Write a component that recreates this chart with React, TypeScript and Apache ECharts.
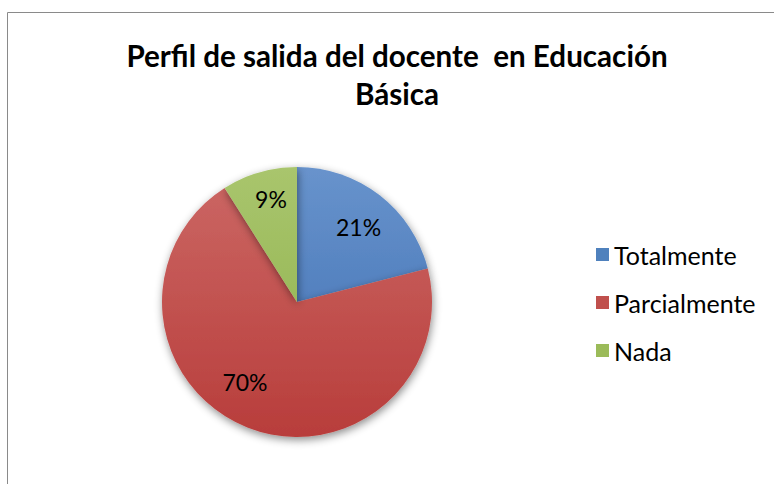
import React, { useEffect, useRef } from "react";
import * as echarts from "echarts";

const titleLines = ["Perfil de salida del docente  en Educación", "Básica"];
const categories = ["Totalmente", "Parcialmente", "Nada"];
const values = [21, 70, 9];
const topColors = ["#6893cc", "#cc6865", "#a9c56d"];
const bottomColors = ["#3c6db1", "#b83d3b", "#8cb049"];
const solidColors = ["#4f81bd", "#c0504d", "#9bbb59"];

const FONT = "Lato";

export default function App() {
  const ref = useRef<HTMLDivElement>(null);
  useEffect(() => {
    if (!ref.current) return;
    const chart = echarts.init(ref.current, null, { renderer: "svg" });
    const cx = 297;
    const cy = 302;
    const R = 135;
    const labelShift = [
      { dx: 0, dy: 4 },
      { dx: -15, dy: -13 },
      { dx: 2, dy: -6 },
    ];
    const grad = (i: number) =>
      new echarts.graphic.LinearGradient(
        0,
        cy - R,
        0,
        cy + R,
        [
          { offset: 0, color: topColors[i] },
          { offset: 1, color: bottomColors[i] },
        ],
        true
      );
    chart.setOption({
      animation: false,
      backgroundColor: "#ffffff",
      title: {
        text: titleLines.join("\n"),
        left: 392,
        top: 31,
        textAlign: "center",
        textStyle: {
          fontFamily: FONT,
          fontWeight: "bold",
          fontSize: 29.6,
          lineHeight: 38,
          color: "#000000",
        },
      },
      legend: {
        orient: "vertical",
        left: 591,
        top: 237,
        icon: "rect",
        itemWidth: 13,
        itemHeight: 13,
        itemGap: 23,
        itemTextGap: 11,
        selectedMode: false,
        textStyle: {
          fontFamily: FONT,
          fontSize: 25,
          lineHeight: 25,
          color: "#000000",
        },
        data: categories.map((n, i) => ({
          name: n,
          itemStyle: { color: solidColors[i] },
        })),
      },
      graphic: [
        {
          type: "rect",
          shape: { x: 7.5, y: 12.5, width: 900, height: 700 },
          style: { fill: "none", stroke: "#8a8a8a", lineWidth: 1 },
          silent: true,
        },
      ],
      series: [
        {
          type: "pie",
          center: [cx, cy],
          radius: [0, R],
          startAngle: 90,
          clockwise: true,
          label: { show: false },
          labelLine: { show: false },
          itemStyle: {
            shadowBlur: 8,
            shadowOffsetX: 1,
            shadowOffsetY: 3,
            shadowColor: "rgba(0,0,0,0.45)",
          },
          data: categories.map((n, i) => ({
            name: n,
            value: values[i],
            itemStyle: { color: grad(i) },
          })),
        },
        {
          type: "pie",
          center: [cx, cy],
          radius: [60, R],
          startAngle: 90,
          clockwise: true,
          silent: true,
          itemStyle: { color: "rgba(0,0,0,0)" },
          label: {
            show: true,
            position: "inside",
            formatter: "{d}%",
            fontFamily: FONT,
            fontSize: 23,
            color: "#000000",
          },
          labelLine: { show: false },
          labelLayout: (p: any) => labelShift[p.dataIndex] || {},
          data: categories.map((n, i) => ({ name: n, value: values[i] })),
        },
      ],
    });
    return () => chart.dispose();
  }, []);
  return (
    <div
      ref={ref}
      style={{ position: "absolute", left: 0, top: 0, width: 774, height: 484 }}
    />
  );
}
